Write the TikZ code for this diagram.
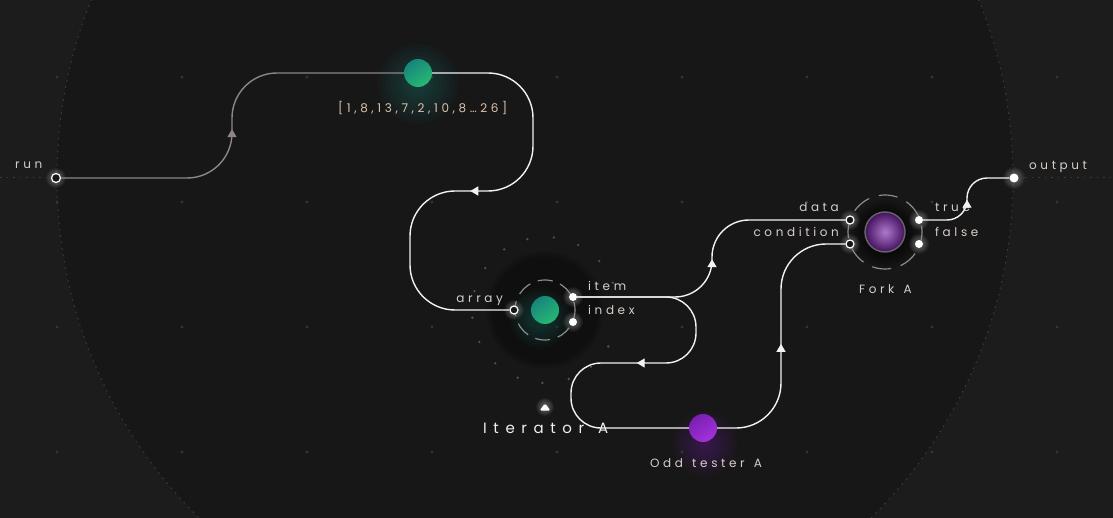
\documentclass[tikz,border=0pt]{standalone}
\usepackage{fontspec}
\setmainfont{Poppins}
\newfontfamily\lblfont[LetterSpace=30,WordSpace=1.35]{Poppins}
\newfontfamily\ttlfont[LetterSpace=44,WordSpace=1.3]{Poppins}
\usetikzlibrary{arrows.meta,decorations.markings}

\definecolor{bgout}{HTML}{1C1C1C}
\definecolor{bgin}{HTML}{171717}
\definecolor{rimc}{HTML}{3C3C3C}
\definecolor{dotc}{HTML}{343434}
\definecolor{txtc}{HTML}{D8CEC8}
\definecolor{wirec}{HTML}{F2F2F2}
\definecolor{runc}{HTML}{8E8686}
\definecolor{tealA}{HTML}{16857A}
\definecolor{tealB}{HTML}{28B874}
\definecolor{purpA}{HTML}{A432DC}
\definecolor{purpB}{HTML}{7A1FB0}

\tikzset{
  lbl/.style={font=\lblfont\fontsize{12}{14}\selectfont, text=txtc, inner sep=0pt},
  ttl/.style={font=\ttlfont\fontsize{15}{18}\selectfont, text=white!94!black, inner sep=0pt},
  inport/.style={circle, draw=white, fill=bgin, line width=1.2pt, minimum size=9pt, inner sep=0pt},
  outport/.style={circle, fill=white, minimum size=9pt, inner sep=0pt},
  gnode/.style={circle, minimum size=28pt, inner sep=0pt, top color=tealA, bottom color=tealB, shading angle=35},
  wire/.style={draw=wirec, line width=1.4pt},
  ring/.style={draw=white!55!black, line width=1.2pt},
  arrowat/.style={postaction={decorate}, decoration={markings,
    mark=at position #1 with {\arrow{Triangle[width=9pt,length=8pt]}}}},
}

% soft halo: centre, colour, radius
\newcommand\glow[3]{\foreach \gr in {1,...,10}{\fill[#2, opacity=0.045] (#1) circle ({#3*\gr/10});}}

\begin{document}
\begin{tikzpicture}[x=1pt,y=-1pt]
  \useasboundingbox (0,0) rectangle (1113,518);
  \fill[bgout] (0,0) rectangle (1113,518);
  \fill[bgin] (535,178) circle (478);
  \draw[rimc, line width=1pt, dash pattern=on 1.5pt off 5pt] (535,178) circle (478);
  \foreach \x in {57,182,...,1057}
    \foreach \y in {77,202,327,452}
      \fill[dotc] (\x,\y) circle (1.6);

  % glows and halos
  \glow{418,84}{tealA}{40}
  \foreach \hr in {59,57,...,53} \fill[black, opacity=0.07] (545,310) circle (\hr);
  \glow{540,318}{tealA}{30}
  \foreach \a in {30,51,71,92,112,133,154,174,195,215,236,256,277,297,318,338}
    \fill[white!25!bgin] (545,310) ++(\a:73) circle (1.3);
  \glow{705,444}{purpB}{32}
  \foreach \hr in {34,31,...,22} \fill[black, opacity=0.12] (885,234) circle (\hr);
  \glow{56,178}{white}{10}
  \glow{1014,178}{white}{11}
  \glow{514,310}{white}{10}
  \glow{573,297}{white}{10}
  \glow{573,322}{white}{10}
  \glow{850,220}{white}{10}
  \glow{850,244}{white}{10}
  \glow{919,220}{white}{10}
  \glow{919,244}{white}{10}
  \glow{545,407}{white}{9}

  % dashed rings
  \draw[ring, dash pattern=on 15pt off 8pt, dash phase=4pt] (545,310) circle (30);
  \draw[ring, dash pattern=on 19pt off 10pt, dash phase=6pt] (885,232) circle (37);

  % nodes
  \node[inport] (run) at (56,178) {};
  \node[outport] (out) at (1014,178) {};
  \node[gnode] (arr) at (418,73) {};
  \node[gnode] (itA) at (545,310) {};
  \node[inport, minimum size=8pt] (itAarr) at (514,310) {};
  \node[outport, minimum size=8pt] (itAitem) at (573,297) {};
  \node[outport, minimum size=8pt] (itAidx) at (573,322) {};
  \node[circle, minimum size=28pt, inner sep=0pt, top color=purpB, bottom color=purpA, shading angle=35] (odd) at (703,428) {};
  \node[circle, minimum size=40pt, inner sep=0pt, inner color=purpA!55!white!85!black, outer color=purpB!55!black, draw=white!40!black, line width=1.4pt] (fork) at (885,232) {};
  \node[inport, minimum size=8pt] (fdata) at (850,220) {};
  \node[inport, minimum size=8pt] (fcond) at (850,244) {};
  \node[outport, minimum size=8pt] (ftrue) at (919,220) {};
  \node[outport, minimum size=8pt] (ffalse) at (919,244) {};
  \fill[white, rounded corners=1.5pt] (539.5,410.5) -- (545,403.5) -- (550.5,410.5) -- cycle;

  % labels
  \node[lbl, anchor=base west] (runl) at (15,169) {run};
  \node[lbl, anchor=base west] (outl) at (1029,170) {output};
  \node[lbl, anchor=base west, text=txtc!85!orange] (arrl) at (338,113) {[1,8,13,7,2,10,8…26]};
  \node[lbl, anchor=base east] (itAarrl) at (503,303) {array};
  \node[lbl, anchor=base west] (itAiteml) at (588,291) {item};
  \node[lbl, anchor=base west] (itAidxl) at (588,315) {index};
  \node[ttl, anchor=base west] (itAl) at (483,433) {Iterator A};
  \node[lbl, anchor=base west] (oddl) at (650,467) {Odd tester A};
  \node[lbl, anchor=base east] (fdatal) at (839,212) {data};
  \node[lbl, anchor=base east] (fcondl) at (839,237) {condition};
  \node[lbl, anchor=base west] (ftruel) at (935,212) {true};
  \node[lbl, anchor=base west] (ffalsel) at (935,237) {false};
  \node[lbl, anchor=base west] (forkl) at (859,294) {Fork A};

  % axis dots
  \coordinate (lft) at (0,178);
  \coordinate (rgt) at (1113,178);
  \draw[rimc, line width=1pt, dash pattern=on 1.5pt off 5pt] (lft) -- (run.west);
  \draw[rimc, line width=1pt, dash pattern=on 1.5pt off 5pt] (out.east) -- (rgt);

  % wires
  \draw[wire, draw=runc, rounded corners=45pt, arrowat=0.49] (run.east) -- (232,178) -- (232,73) -- (arr.west);
  \draw[wire, rounded corners=45pt, arrowat=0.503] (arr.east) -- (533,73) -- (533,191) -- (410,191) -- (410,310) -- (itAarr.west);
  \draw[wire, rounded corners=37pt, arrowat=0.5] (itAitem.east) -- (712,297) -- (712,220) -- (fdata.west);
  \draw[wire, rounded corners=30pt, arrowat=0.495] (itAitem.east) -- (696,297) -- (696,363) -- (571,363) -- (571,428) -- (odd.west);
  \draw[wire, rounded corners=45pt, arrowat=0.47] (odd.east) -- (781,428) -- (781,244) -- (fcond.west);
  \draw[wire, rounded corners=20pt, arrowat=0.5] (ftrue.east) -- (967,220) -- (967,178) -- (out.west);
\end{tikzpicture}
\end{document}
